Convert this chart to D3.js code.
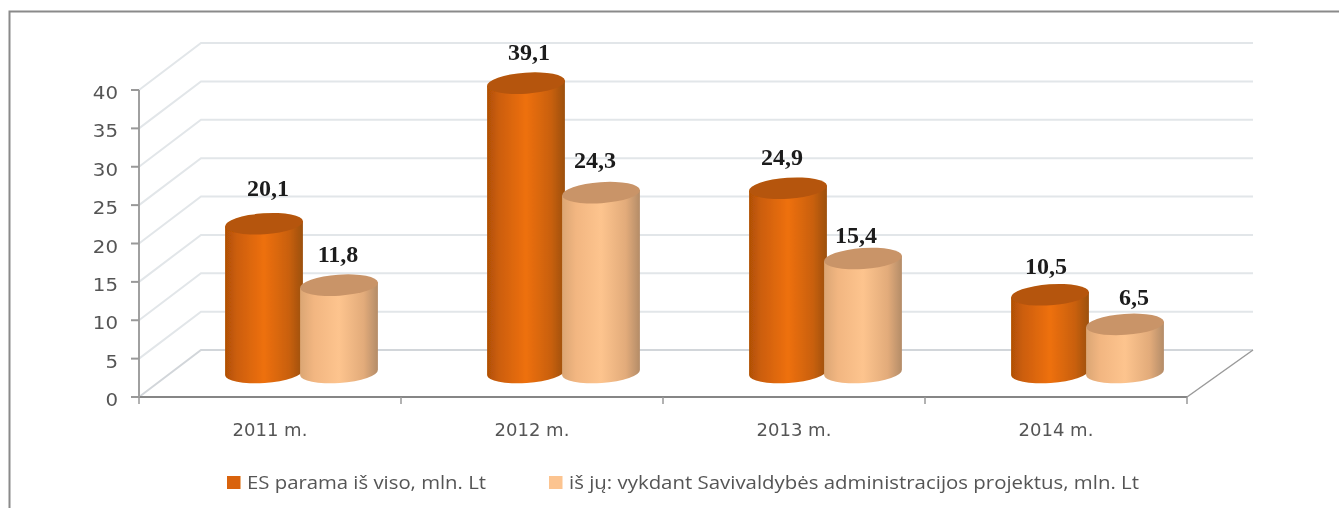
<!DOCTYPE html>
<html><head><meta charset="utf-8">
<script src="https://cdnjs.cloudflare.com/ajax/libs/d3/7.8.5/d3.min.js"></script>
<style>html,body{margin:0;padding:0;background:#fff}svg{display:block}</style></head>
<body><svg id="c" width="1339" height="508"></svg>
<script>
const categories = ["2011 m.","2012 m.","2013 m.","2014 m."];
const seriesNames = ["ES parama iš viso, mln. Lt","iš jų: vykdant Savivaldybės administracijos projektus, mln. Lt"];
const seriesA = [20.1,39.1,24.9,10.5];
const seriesB = [11.8,24.3,15.4,6.5];
const labelsA = ["20,1","39,1","24,9","10,5"];
const labelsB = ["11,8","24,3","15,4","6,5"];
const yTicks = [0,5,10,15,20,25,30,35,40];
// hand-placed data label nudges in the original
const nudgeAx=[129,128,119,121], nudgeAy=[-28,-23,-23,-21];
const nudgeBx=[199,194,193,209], nudgeBy=[-23,-25,-15.5,-19];

const svg = d3.select("#c");
const defs = svg.append("defs");
function grad(id,stops){const g=defs.append("linearGradient").attr("id",id);
  stops.forEach(s=>g.append("stop").attr("offset",s[0]).attr("stop-color",s[1]));}
grad("gA",[[0,"#b04f06"],[.15,"#cc5e08"],[.5,"#ee700b"],[.82,"#c9600c"],[1,"#9c5010"]]);
grad("gB",[[0,"#dba674"],[.18,"#f2b681"],[.5,"#fdc48e"],[.82,"#e2ab7a"],[1,"#b48c68"]]);
defs.append("filter").attr("id","soft").append("feGaussianBlur").attr("stdDeviation",0.75);
defs.append("filter").attr("id","softT").append("feGaussianBlur").attr("stdDeviation",0.45);

// frame
svg.append("path").attr("d","M9.5,508V11.5H1339").attr("fill","none").attr("stroke","#8a8a8a").attr("stroke-width",2);

const x = d3.scaleBand().domain(categories).range([139,1187]);
const y = d3.scaleLinear().domain([0,40]).range([397,90]);
const barH = d3.scaleLinear().domain([0,40]).range([0,296]);
const depth = {dx:62, dy:-47};
const main = svg.append("g").attr("filter","url(#soft)");

// gridlines
main.append("g").selectAll("path").data(yTicks).join("path")
  .attr("d",d=>`M${x.range()[0]},${y(d)}l${depth.dx},${depth.dy}H${x.range()[1]+depth.dx+4}`)
  .attr("fill","none").attr("stroke",d=>d===0?"#d2d6da":"#e2e6e9").attr("stroke-width",2);
// floor right edge
main.append("path").attr("d",`M${x.range()[1]},${y(0)}l${depth.dx+4},${depth.dy}`).attr("fill","none").attr("stroke","#9a9a9a").attr("stroke-width",1.5);
// axes
main.append("path").attr("d",`M${x.range()[0]},${y(0)}H${x.range()[1]}`).attr("stroke","#868686").attr("stroke-width",2);
main.append("path").attr("d",`M${x.range()[0]},${y(40)}V${y(0)}`).attr("stroke","#a0a0a0").attr("stroke-width",2);
main.append("g").selectAll("line").data(yTicks).join("line")
  .attr("x1",131).attr("x2",139).attr("y1",d=>y(d)).attr("y2",d=>y(d)).attr("stroke","#999").attr("stroke-width",2);
const xEdges = categories.map(c=>x(c)).concat([x.range()[1]]);
main.append("g").selectAll("line").data(xEdges).join("line")
  .attr("x1",d=>d).attr("x2",d=>d).attr("y1",397).attr("y2",404).attr("stroke","#999").attr("stroke-width",1.5);

// cylinders
const rx=39, ry=10.5, tilt=-4, baseY=372.5;
const offsets=[86+rx,161+rx];
function cyl(g,cx,h,fill,top){
  const yb=baseY, yt=baseY-h;
  const a=g.append("g").attr("transform",`translate(${cx},0)`);
  const rad=-tilt*Math.PI/180, ex=rx*Math.cos(rad), ey=rx*Math.sin(rad);
  a.append("path").attr("d",`M${-ex},${yt+ey}L${-ex},${yb+ey}A${rx},${ry} ${tilt} 0 0 ${ex},${yb-ey}L${ex},${yt-ey}Z`).attr("fill",fill);
  a.append("ellipse").attr("cx",0).attr("cy",yt).attr("rx",rx).attr("ry",ry)
    .attr("transform",`rotate(${tilt} 0 ${yt})`).attr("fill",top);
}
const bars=main.append("g");
categories.forEach((c,i)=>{
  cyl(bars,x(c)+offsets[0],barH(seriesA[i]),"url(#gA)","#b55508");
  cyl(bars,x(c)+offsets[1],barH(seriesB[i]),"url(#gB)","#c99468");
});

// text
const txt=svg.append("g").attr("filter","url(#softT)");
const stretch=(sel,w)=>sel.each(function(){
  d3.select(this).attr("textLength",this.getComputedTextLength()*w).attr("lengthAdjust","spacingAndGlyphs");});
txt.append("g").selectAll("text").data(yTicks).join("text")
  .attr("x",118).attr("y",d=>y(d)+9).attr("text-anchor","end")
  .attr("font-family","'DejaVu Sans'").attr("font-size",18).attr("fill","#555").text(d=>d)
  .call(stretch,1.1);
txt.append("g").selectAll("text").data(categories).join("text")
  .attr("x",d=>x(d)+131).attr("y",436).attr("text-anchor","middle")
  .attr("font-family","'DejaVu Sans'").attr("font-size",18).attr("fill","#555").text(d=>d);
const dl=(vals,labs,nx,ny)=>txt.append("g").selectAll("text").data(categories).join("text")
  .attr("x",(d,i)=>x(d)+nx[i]).attr("y",(d,i)=>baseY-barH(vals[i])+ny[i])
  .attr("text-anchor","middle").attr("font-family","'Liberation Serif'").attr("font-weight","bold")
  .attr("font-size",24).attr("fill","#1a1a1a").text((d,i)=>labs[i]);
dl(seriesA,labelsA,nudgeAx,nudgeAy);
dl(seriesB,labelsB,nudgeBx,nudgeBy);

// legend
const lg=[{x:227,tx:247,c:"#d9640a",w:239},{x:549,tx:569,c:"#fcc490",w:570}];
seriesNames.forEach((s,i)=>{
  svg.append("rect").attr("x",lg[i].x).attr("y",476).attr("width",13.5).attr("height",13).attr("fill",lg[i].c).attr("filter","url(#softT)");
  txt.append("text").attr("x",lg[i].tx).attr("y",489).attr("font-family","'Open Sans'").attr("font-size",19).attr("fill","#555").text(s)
    .attr("textLength",lg[i].w).attr("lengthAdjust","spacingAndGlyphs");
});
</script></body></html>
